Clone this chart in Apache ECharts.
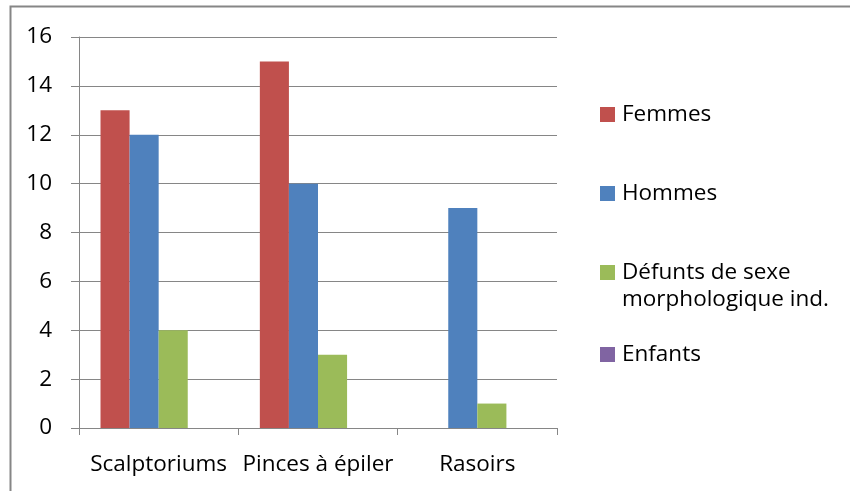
<!DOCTYPE html>
<html><head><meta charset="utf-8">
<script src="https://cdn.jsdelivr.net/npm/echarts@6/dist/echarts.min.js"></script>
<style>html,body{margin:0;padding:0;background:#fff}#c{width:850px;height:491px}</style>
</head><body><div id="c"></div>
<script>
const categories = ['Scalptoriums', 'Pinces à épiler', 'Rasoirs'];
const femmes = [13, 15, 0];
const hommes = [12, 10, 9];
const defunts = [4, 3, 1];
const enfants = [0, 0, 0];
const seriesNames = ['Femmes', 'Hommes', 'Défunts de sexe morphologique ind.', 'Enfants'];
const yTicks = [0, 2, 4, 6, 8, 10, 12, 14, 16];

const FONT = 'Open Sans';
const FS = 22.5;
const colors = ['#C0504D', '#4F81BD', '#9BBB59', '#8064A2'];
const chart = echarts.init(document.getElementById('c'), null, {renderer: 'canvas'});
const legendTops = [103, 182, 261, 343];
const legendTextFmt = [null, null, () => 'Défunts de sexe', null];
const option = {
  animation: false,
  color: colors,
  grid: {left: 79, right: 293, top: 37, bottom: 63, containLabel: false},
  xAxis: {
    type: 'category', data: categories,
    axisLine: {lineStyle: {color: '#868686', width: 1}},
    axisTick: {show: true, length: 7, lineStyle: {color: '#868686'}},
    axisLabel: {fontFamily: FONT, fontSize: FS, color: '#000', margin: 25, interval: 0}
  },
  yAxis: {
    type: 'value', min: yTicks[0], max: yTicks[yTicks.length - 1], interval: 2,
    axisLine: {show: true, lineStyle: {color: '#868686', width: 1}},
    axisTick: {show: true, length: 8, lineStyle: {color: '#868686'}},
    splitLine: {show: true, lineStyle: {color: '#868686', width: 1}},
    axisLabel: {fontFamily: FONT, fontSize: FS, color: '#000', margin: 27}
  },
  legend: seriesNames.map((n, i) => ({
    data: [n], left: 600, top: legendTops[i], orient: 'vertical',
    itemWidth: 15, itemHeight: 15, itemGap: 0, padding: 0,
    icon: 'rect',
    formatter: legendTextFmt[i] || undefined,
    textStyle: {fontFamily: FONT, fontSize: FS, color: '#000', padding: [0, 0, 0, 2]},
    selectedMode: false
  })),
  graphic: [
    {type: 'rect', shape: {x: 10.5, y: 6.5, width: 860, height: 500}, style: {fill: 'none', stroke: '#868686', lineWidth: 2}, silent: true},
    {type: 'text', left: 622, top: 288, style: {text: 'morphologique ind.', font: FS + 'px "' + FONT + '"', fill: '#000'}}
  ],
  series: [
    {name: seriesNames[0], type: 'bar', data: femmes, barGap: '0%', barCategoryGap: '27%'},
    {name: seriesNames[1], type: 'bar', data: hommes, barGap: '0%', barCategoryGap: '27%'},
    {name: seriesNames[2], type: 'bar', data: defunts, barGap: '0%', barCategoryGap: '27%'},
    {name: seriesNames[3], type: 'bar', data: enfants, barGap: '0%', barCategoryGap: '27%'}
  ]
};
chart.setOption(option);
</script></body></html>
